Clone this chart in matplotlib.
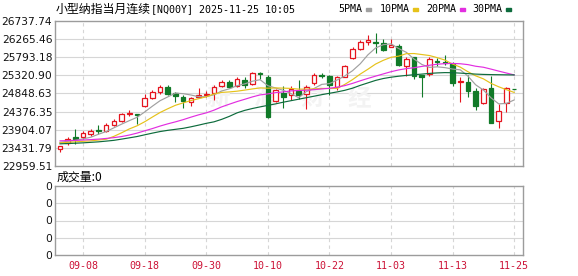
import numpy as np
import pandas as pd
import matplotlib
matplotlib.use("Agg")
import matplotlib.pyplot as plt
from matplotlib.patches import Rectangle

# trading days shown (60 bars)
dates = pd.bdate_range("2025-09-03", "2025-11-25").strftime("%m-%d")

opens = [23394, 23571, 23712, 23707, 23798, 23902, 23876, 24032, 24144, 24318,
         24326, 24534, 24742, 24883, 25028, 24857, 24768, 24638, 24752, 24812,
         24857, 25047, 25151, 25039, 25203, 25099, 25377, 25291, 24656, 24872,
         24812, 24924, 24838, 25117, 25322, 25307, 25013, 25291, 25780, 26014,
         26191, 26178, 26158, 26053, 26095, 25575, 25788, 25330, 25359, 25705,
         25679, 25606, 25151, 25158, 24922, 24596, 25000, 24128, 24591, 24974]
highs = [23485, 23720, 23915, 23876, 23920, 24032, 24076, 24180, 24352, 24422,
         24326, 24831, 24942, 25073, 25065, 24898, 24812, 24752, 24987, 24924,
         25073, 25203, 25203, 25273, 25281, 25411, 25419, 25330, 24968, 25047,
         25047, 25190, 25073, 25377, 25377, 25330, 25307, 25593, 26053, 26244,
         26374, 26418, 26269, 26256, 26126, 25809, 25809, 25330, 25788, 25767,
         25853, 25671, 25289, 25330, 25000, 24987, 25296, 24565, 25013, 24974]
lows = [23329, 23511, 23537, 23660, 23746, 23798, 23850, 24006, 24118, 24266,
        24050, 24508, 24700, 24838, 24805, 24638, 24466, 24526, 24752, 24768,
        24682, 25013, 24987, 25013, 24994, 25073, 25229, 24206, 24630, 24466,
        24682, 24708, 24435, 25073, 25255, 24812, 24942, 25266, 25741, 25983,
        26100, 25897, 25965, 26048, 25554, 25317, 25236, 24760, 25307, 25567,
        25580, 25034, 24638, 24768, 24409, 24578, 24084, 23946, 24378, 24963]
closes = [23485, 23675, 23667, 23831, 23883, 23876, 24032, 24144, 24318, 24336,
          24300, 24742, 24898, 25028, 24838, 24786, 24664, 24726, 24812, 24838,
          25028, 25158, 25013, 25221, 25073, 25377, 25359, 24227, 24929, 24768,
          24961, 24812, 25021, 25330, 25296, 25073, 25273, 25559, 26009, 26199,
          26244, 26160, 25991, 26113, 25593, 25741, 25296, 25278, 25744, 25658,
          25637, 25117, 25177, 24922, 24526, 24961, 24092, 24396, 24987, 24963]

ma5 = [23576, 23602, 23628, 23667, 23709, 23787, 23857, 23954, 24050, 24141,
       24227, 24367, 24518, 24661, 24760, 24859, 24844, 24810, 24765, 24765,
       24815, 24914, 24971, 25052, 25099, 25169, 25208, 25052, 24992, 24932,
       24849, 24739, 24898, 24979, 25086, 25106, 25200, 25307, 25442, 25622,
       25856, 26035, 26121, 26142, 26020, 25921, 25746, 25606, 25530, 25543,
       25523, 25486, 25465, 25301, 25075, 24940, 24734, 24578, 24591, 24680]
ma10 = [23563, 23576, 23589, 23602, 23615, 23636, 23657, 23732, 23824, 23925,
        24006, 24112, 24235, 24354, 24451, 24542, 24604, 24664, 24713, 24763,
        24836, 24877, 24890, 24909, 24937, 24968, 24994, 24987, 24994, 24989,
        24981, 24963, 24961, 24968, 24981, 24979, 24981, 25086, 25210, 25354,
        25481, 25616, 25713, 25791, 25822, 25887, 25890, 25864, 25838, 25783,
        25720, 25616, 25536, 25416, 25309, 25231, 25112, 25023, 24948, 24877]
ma20 = [23615, 23621, 23628, 23636, 23647, 23660, 23678, 23699, 23727, 23766,
        23816, 23876, 23935, 24000, 24058, 24110, 24167, 24232, 24292, 24344,
        24414, 24500, 24570, 24638, 24698, 24760, 24812, 24838, 24870, 24890,
        24916, 24927, 24935, 24948, 24968, 24984, 25013, 25054, 25112, 25179,
        25242, 25301, 25359, 25416, 25463, 25497, 25520, 25554, 25585, 25611,
        25627, 25632, 25624, 25601, 25559, 25533, 25484, 25432, 25382, 25333]
ma30 = [23537, 23545, 23553, 23563, 23576, 23589, 23608, 23628, 23660, 23693,
        23727, 23772, 23816, 23857, 23889, 23915, 23941, 23980, 24024, 24071,
        24110, 24175, 24253, 24344, 24409, 24458, 24500, 24539, 24578, 24622,
        24661, 24700, 24739, 24778, 24818, 24854, 24890, 24932, 24987, 25060,
        25125, 25190, 25239, 25273, 25299, 25320, 25338, 25354, 25372, 25385,
        25393, 25390, 25380, 25367, 25354, 25346, 25341, 25338, 25335, 25333]
volume = [0] * 60

price_ticks = [22959.51, 23431.79, 23904.07, 24376.35, 24848.63,
               25320.90, 25793.18, 26265.46, 26737.74]
vol_tick_labels = ["0", "0", "0", "0", "0"]
date_labels = ["09-08", "09-18", "09-30", "10-10", "10-22", "11-03", "11-13", "11-25"]

UP = "#e5141e"
DOWN = "#117a28"
MA_COLORS = ["#a0a0a0", "#e6c21a", "#e22ee0", "#0d6b3c"]
MA_NAMES = ["5PMA", "10PMA", "20PMA", "30PMA"]
BORDER = "#9c9c9c"
GRID = "#d6d6d6"
CJK = ["Noto Sans CJK SC", "DejaVu Sans"]

W, H = 578, 276
fig = plt.figure(figsize=(W / 100, H / 100), dpi=100)
ax = fig.add_axes([55 / W, 1 - 166 / H, 468 / W, 145 / H])
axv = fig.add_axes([55 / W, 1 - 255 / H, 468 / W, 69 / H])

x = np.arange(len(dates))
tick_pos = [list(dates).index(d) for d in date_labels]

for a in (ax, axv):
    a.set_xlim(-0.65, 60.15)
    for s in a.spines.values():
        s.set_color(BORDER)
        s.set_linewidth(1)
    a.set_xticks(tick_pos)
    a.tick_params(length=0)
    for p in tick_pos:
        a.axvline(p, color=GRID, lw=0.8, ls=(0, (3, 3)), zorder=0)

# price panel
ax.set_ylim(price_ticks[0], price_ticks[-1])
ax.set_yticks(price_ticks)
ax.set_yticklabels(["%.2f" % v for v in price_ticks], fontsize=7.7, color="#111111")
ax.tick_params(axis="y", pad=2)
ax.set_xticklabels([])
for v in price_ticks[1:-1]:
    ax.axhline(v, color=GRID, lw=0.8, zorder=0)

# faint watermark
for k, ch in enumerate("新浪财经"):
    ax.text((218 + 47 * k - 55) / 468, (166 - 98) / 145, ch, transform=ax.transAxes,
            fontsize=17, fontweight="bold", family=CJK, color="#f3f3f3",
            ha="center", va="center", zorder=0.5)

for i in x:
    up = closes[i] >= opens[i]
    c = UP if up else DOWN
    ax.vlines(i, lows[i], highs[i], color=c, lw=0.8, zorder=2)
    lo = min(opens[i], closes[i])
    hgt = abs(closes[i] - opens[i])
    ax.bar(i, hgt, width=0.6, bottom=lo, facecolor="white" if up else DOWN,
           edgecolor=c, linewidth=0.9, zorder=3)

for vals, col in zip([ma5, ma10, ma20, ma30], MA_COLORS):
    ax.plot(x, vals, color=col, lw=0.85, zorder=4)

# volume panel
axv.bar(x, volume, width=0.6, color=DOWN)
axv.set_ylim(0, 4)
axv.set_yticks(range(5))
axv.set_yticklabels(vol_tick_labels, fontsize=7.7, color="#111111")
axv.tick_params(axis="y", pad=2)
for v in range(1, 4):
    axv.axhline(v, color=GRID, lw=0.8, zorder=0)
axv.set_xticklabels(date_labels, family="DejaVu Sans Mono", fontsize=7.2, color="#cc1236")
axv.tick_params(axis="x", pad=4)

# header texts
fig.text(56 / W, 1 - 9 / H, "小型纳指当月连续", family=CJK, fontsize=8.6, va="center")
fig.text(151 / W, 1 - 9 / H, "[NQ00Y] 2025-11-25 10:05", family="DejaVu Sans Mono",
         fontsize=7.2, va="center")
for name, col, tx, dx in zip(MA_NAMES, MA_COLORS, [338, 380, 426, 472], [366, 413, 460, 506]):
    fig.text(tx / W, 1 - 9 / H, name, family="DejaVu Sans Mono", fontsize=7.2, va="center")
    fig.add_artist(Rectangle((dx / W, 1 - 10.5 / H), 4.5 / W, 2 / H, color=col,
                             transform=fig.transFigure))
fig.text(57 / W, 1 - 177 / H, "成交量:0", family=CJK, fontsize=8.6, va="center")

fig.savefig("out.png", dpi=100)
